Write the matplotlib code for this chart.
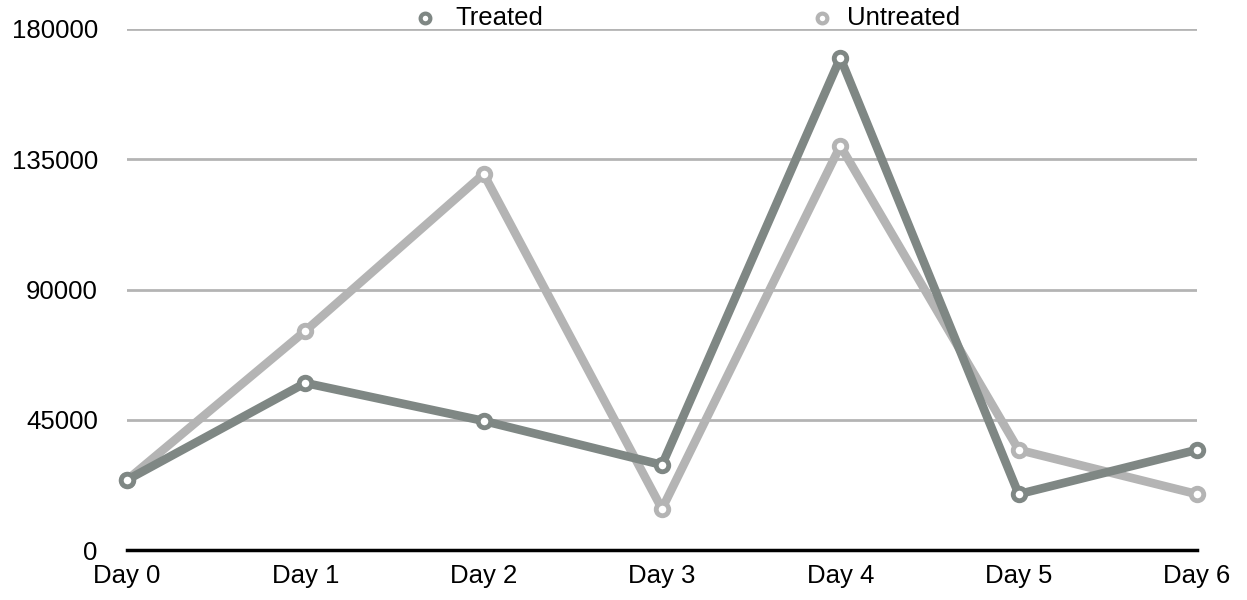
import matplotlib
matplotlib.use("Agg")
import matplotlib.pyplot as plt
from matplotlib.lines import Line2D

days = ["Day 0", "Day 1", "Day 2", "Day 3", "Day 4", "Day 5", "Day 6"]
treated = [24200, 57700, 44600, 29400, 170000, 19300, 34600]
untreated = [24200, 75700, 129900, 14200, 139600, 34600, 19300]
yticks = [0, 45000, 90000, 135000, 180000]
series_names = ["Treated", "Untreated"]

c_treated = "#7f8784"
c_untreated = "#b4b4b4"

plt.rcParams['font.family'] = ['Liberation Sans', 'DejaVu Sans']
FS = 18.5

fig = plt.figure(figsize=(12.47, 6), dpi=100)
ax = fig.add_axes([127/1247, 50/600, (1197-127)/1247, (550-29)/600])

x = list(range(len(days)))
ax.plot(x, untreated, color=c_untreated, lw=6.2, marker='o', ms=9, mfc='white',
        mec=c_untreated, mew=3.5, zorder=3, clip_on=False)
ax.plot(x, treated, color=c_treated, lw=6.2, marker='o', ms=9, mfc='white',
        mec=c_treated, mew=3.5, zorder=4, clip_on=False)

ax.set_xlim(0, 6)
ax.set_ylim(0, 180000)
ax.set_yticks(yticks)
ax.set_yticklabels([str(v) for v in yticks])
ax.set_xticks(x)
ax.set_xticklabels(days)
ax.tick_params(length=0, labelsize=FS, colors='black')
ax.tick_params(axis='y', pad=21)
ax.tick_params(axis='x', pad=10)
ax.yaxis.grid(True, color='#b4b4b4', lw=2)
ax.set_axisbelow(True)
for s in ['top', 'right', 'left']:
    ax.spines[s].set_visible(False)
ax.spines['bottom'].set_linewidth(2.5)
ax.spines['bottom'].set_color('black')
ax.spines['bottom'].set_zorder(5)

# legend drawn at top
leg_y = 1 - 18/600
for name, col, mx, tx in [(series_names[0], c_treated, 425, 455),
                          (series_names[1], c_untreated, 822, 847)]:
    fig.add_artist(Line2D([mx/1247], [leg_y], transform=fig.transFigure, ls='none',
                          marker='o', ms=7, mfc='white', mec=col, mew=3))
    fig.text(tx/1247, leg_y, name, fontsize=FS, va='center', ha='left', color='black')

fig.savefig("out.png", dpi=100)
